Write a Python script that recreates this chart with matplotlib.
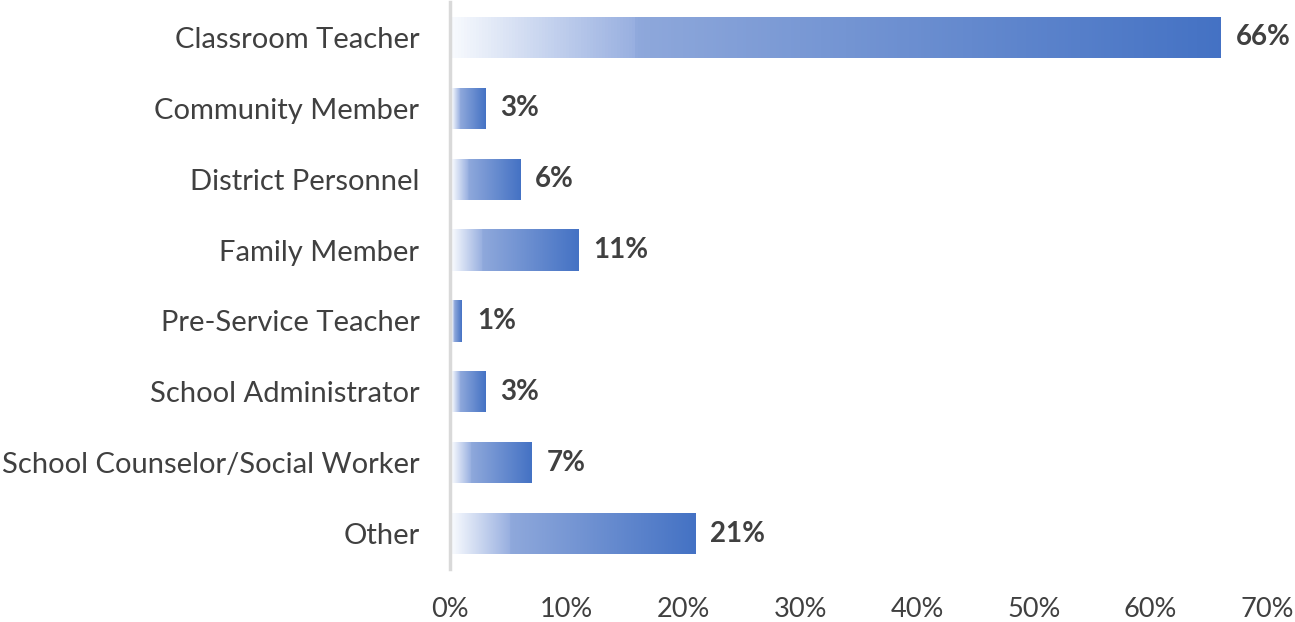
import numpy as np
import matplotlib
matplotlib.use("Agg")
import matplotlib.pyplot as plt
from matplotlib.colors import LinearSegmentedColormap

categories = ["Classroom Teacher", "Community Member", "District Personnel", "Family Member",
              "Pre-Service Teacher", "School Administrator", "School Counselor/Social Worker", "Other"]
values = [66, 3, 6, 11, 1, 3, 7, 21]
xticks = [0, 10, 20, 30, 40, 50, 60, 70]
xticklabels = ["0%", "10%", "20%", "30%", "40%", "50%", "60%", "70%"]

plt.rcParams['font.family'] = ['Lato', 'DejaVu Sans']
txt = "#404040"

cmap = LinearSegmentedColormap.from_list("grad", [
    (0.0, (0.97, 0.98, 0.995)),
    (0.235, (0.60, 0.69, 0.88)),
    (0.24, (0.56, 0.66, 0.86)),
    (1.0, (0.267, 0.447, 0.769)),
])

fig = plt.figure(figsize=(12.95, 6.22), dpi=100)
ax = fig.add_axes([0.3475, 0.085, 0.631, 0.912])
ypos = np.arange(len(categories))
h = 0.58
bars = ax.barh(ypos, values, height=h, color="none", edgecolor="none")
grad = np.linspace(0, 1, 256).reshape(1, -1)
for b, v, y in zip(bars, values, ypos):
    im = ax.imshow(grad, cmap=cmap, aspect="auto",
                   extent=[0.15, v, y + h / 2, y - h / 2], zorder=2)
    im.set_clip_path(b)
    ax.text(v + 1.3, y, f"{v}%", va="center", ha="left", fontsize=20,
            fontweight="bold", color=txt)

ax.set_xlim(0, 70)
ax.set_ylim(len(categories) - 0.5, -0.5)
ax.set_yticks(ypos)
ax.set_yticklabels(categories, fontsize=21, color=txt)
ax.set_xticks(xticks)
ax.set_xticklabels(xticklabels, fontsize=19.5, color=txt)
ax.tick_params(length=0)
ax.tick_params(axis="y", pad=22)
ax.tick_params(axis="x", pad=20)
for s in ["top", "right", "bottom"]:
    ax.spines[s].set_visible(False)
ax.spines["left"].set_color("#d9d9d9")
ax.spines["left"].set_linewidth(2.5)
ax.spines["left"].set_zorder(3)

fig.savefig("out.png", dpi=100)
